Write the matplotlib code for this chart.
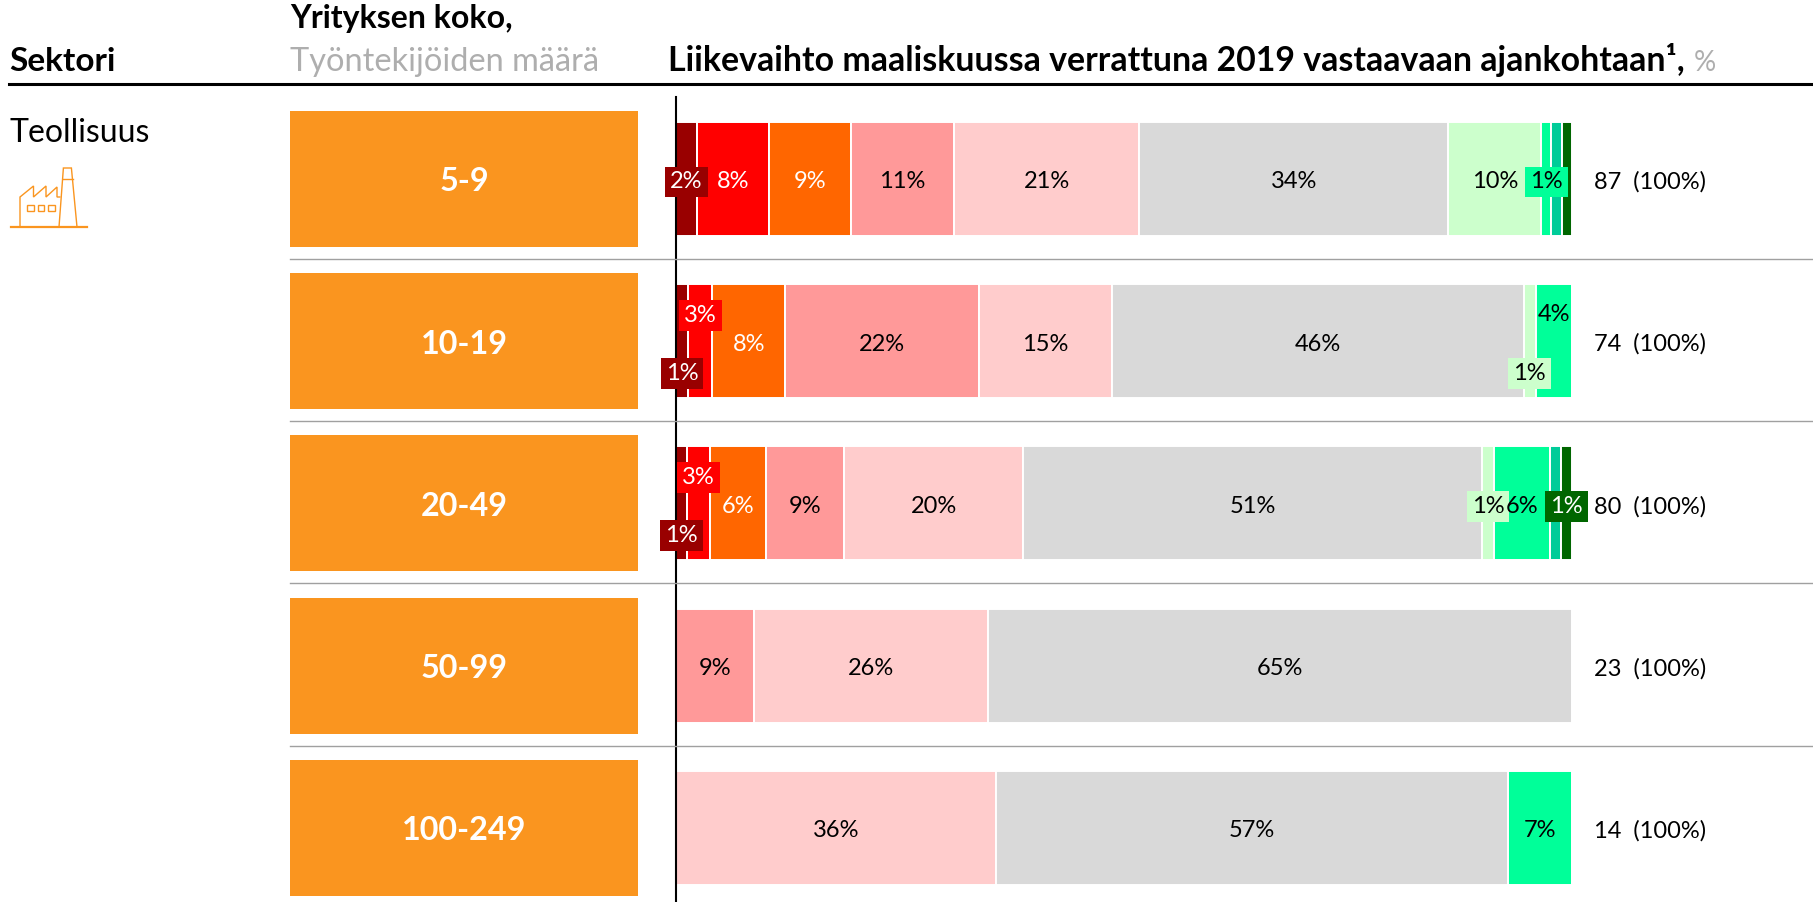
import matplotlib
matplotlib.use('Agg')
import matplotlib.pyplot as plt
from matplotlib.lines import Line2D
from matplotlib.patches import Polygon, Rectangle

plt.rcParams['font.family'] = ['Lato', 'DejaVu Sans']

sizes = ['5-9', '10-19', '20-49', '50-99', '100-249']
totals = [87, 74, 80, 23, 14]

# number of answers per bar segment, one list per answer class
much_lower = [2, 1, 1, 0, 0]
lower = [7, 2, 2, 0, 0]
somewhat_lower = [8, 6, 5, 0, 0]
little_lower = [10, 16, 7, 2, 0]
slightly_lower = [18, 11, 16, 6, 5]
same = [30, 34, 41, 15, 8]
slightly_higher = [9, 1, 1, 0, 0]
higher = [1, 3, 5, 0, 1]
much_higher = [1, 0, 1, 0, 0]
highest = [1, 0, 1, 0, 0]

series = [much_lower, lower, somewhat_lower, little_lower, slightly_lower,
          same, slightly_higher, higher, much_higher, highest]
colors = ['#990000', '#FF0000', '#FF6600', '#FF9999', '#FFCCCC',
          '#D9D9D9', '#CCFFCC', '#00FF99', '#00CC99', '#006600']
white_text = [True, True, True, False, False, False, False, False, False, True]

no_label = [(0, 8), (0, 9), (2, 8)]  # (row, series)
# labels moved up or down to keep them apart, in pixels
label_shift = {(1, 0): 29, (1, 1): -29, (1, 6): 29, (1, 7): -30,
               (2, 0): 29, (2, 1): -29}

W, H = 1813, 902
ROW_STEP = 162.2
ROW0 = 179
TEXT_DROP = 3  # Lato sits a little high when centred


def fx(x):
    return x / W


def fy(y):
    return 1 - y / H


fig = plt.figure(figsize=(W / 100, H / 100), dpi=100)


def px_axes(left, right):
    # axes with one unit per row, lined up with the picture rows
    ax = fig.add_axes([fx(left), 0, (right - left) / W, 1 - 97 / H])
    ax.set_ylim((H - ROW0) / ROW_STEP, (97 - ROW0) / ROW_STEP)
    ax.patch.set_alpha(0)
    ax.set_xticks([])
    ax.set_yticks([])
    for s in ax.spines.values():
        s.set_visible(False)
    return ax


# size boxes
ax_size = px_axes(290, 638)
ax_size.set_xlim(0, 1)
ax_size.barh(range(len(sizes)), [1] * len(sizes), height=136 / ROW_STEP, color='#FA951F')
for i, s in enumerate(sizes):
    ax_size.annotate(s, (0.5, i), xytext=(0, -TEXT_DROP), textcoords='offset pixels', ha='center',
                     va='center', color='white', fontsize=23.3, fontweight='bold')

# stacked bars
ax = px_axes(676, 1572)
ax.set_xlim(0, 100)
ax.spines['left'].set_visible(True)
ax.spines['left'].set_linewidth(1.5)
ax.spines['left'].set_color('black')

left = [0.0] * len(sizes)
for k, vals in enumerate(series):
    pct = [v / n * 100 for v, n in zip(vals, totals)]
    ax.barh(range(len(sizes)), pct, left=left, height=114 / ROW_STEP, color=colors[k],
            edgecolor='white', linewidth=1.4)
    for i, p in enumerate(pct):
        if p == 0 or (i, k) in no_label:
            continue
        txt_color = 'white' if white_text[k] else 'black'
        box = None
        if p < 3.5:
            box = dict(facecolor=colors[k], edgecolor='none', pad=3.6)
        dy = label_shift.get((i, k), 0) + TEXT_DROP
        ax.annotate('%d%%' % int(p + 0.5), (left[i] + p / 2, i), xytext=(0, -dy),
                    textcoords='offset pixels', ha='center', va='center', fontsize=17,
                    color=txt_color, bbox=box, zorder=5)
    left = [a + b for a, b in zip(left, pct)]

for i, n in enumerate(totals):
    ax.annotate('%d  (100%%)' % n, (100, i), xytext=(1594 - 1572, -TEXT_DROP), textcoords='offset pixels',
                ha='left', va='center', fontsize=17)

# headers
fig.text(fx(9), fy(71), 'Sektori', fontsize=24, fontweight='bold', va='baseline')
fig.text(fx(290), fy(28), 'Yrityksen koko,', fontsize=23, fontweight='bold', va='baseline')
fig.text(fx(290), fy(71), 'Työntekijöiden määrä', fontsize=23.4, color='#AEAEAE', va='baseline')
fig.text(fx(668), fy(71), 'Liikevaihto maaliskuussa verrattuna 2019 vastaavaan ajankohtaan¹,',
         fontsize=24.4, fontweight='bold', va='baseline')
fig.text(fx(1694), fy(71), '%', fontsize=20, color='#AEAEAE', va='baseline')
fig.text(fx(9), fy(142), 'Teollisuus', fontsize=23, va='baseline')

# rules
fig.add_artist(Line2D([fx(9), 1], [fy(84), fy(84)], color='black', lw=2.2))
for y in [259, 421, 583, 746]:
    fig.add_artist(Line2D([fx(290), 1], [fy(y), fy(y)], color='#A0A0A0', lw=1))

# factory icon
icon = '#FA951F'
building = [(20, 227), (20, 197), (33.5, 186), (33.5, 197), (46, 186), (46, 197), (57, 187), (57, 197), (60.5, 197)]
chimney = [(59, 227), (63.4, 168), (71.4, 168), (77, 227)]
fig.add_artist(Line2D([fx(11), fx(87)], [fy(227), fy(227)], color=icon, lw=1.6))
fig.add_artist(Polygon([(fx(x), fy(y)) for x, y in building], closed=False, fill=False,
                       edgecolor=icon, lw=1, transform=fig.transFigure))
fig.add_artist(Polygon([(fx(x), fy(y)) for x, y in chimney], closed=False, fill=False,
                       edgecolor=icon, lw=1, transform=fig.transFigure))
fig.add_artist(Line2D([fx(62.5), fx(72.5)], [fy(179), fy(179)], color=icon, lw=1))
for x in [27, 37.5, 48]:
    fig.add_artist(Rectangle((fx(x), fy(211)), 6.5 / W, 6 / H, fill=False, edgecolor=icon, lw=1,
                             transform=fig.transFigure))

fig.savefig('out.png', dpi=100)
